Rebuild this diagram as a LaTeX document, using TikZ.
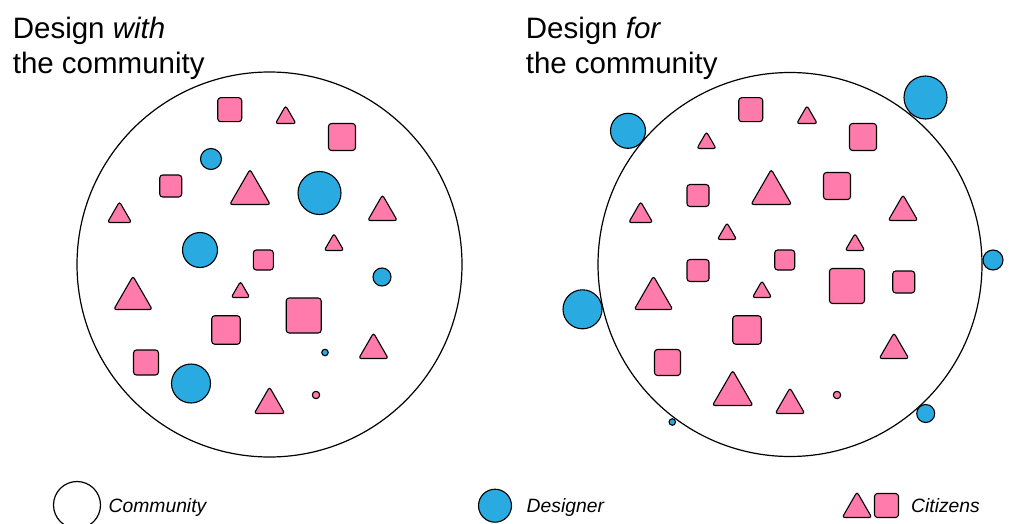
\documentclass[tikz,border=0pt]{standalone}
\usepackage{fontspec}
\setmainfont{Liberation Sans}
\definecolor{citpink}{HTML}{FF7BAC}
\definecolor{desblue}{HTML}{29ABE2}
\tikzset{%
  community/.style={circle, draw=black, line width=1.2pt, inner sep=0pt, outer sep=0pt, minimum size=#1},
  des/.style={circle, draw=black, fill=desblue, line width=1.1pt, inner sep=0pt, outer sep=0pt, minimum size={#1-1}},
  sq/.style={rectangle, draw=black, fill=citpink, line width=1.1pt, rounded corners=3pt, inner sep=0pt, outer sep=0pt, minimum size={#1-1}},
  tri/.pic={
    \draw[draw=black, fill=citpink, line width=1.1pt, rounded corners=2.5pt]
      (0,0) -- ({(#1+1.5)/2},0) -- (0,{-0.866*(#1+1.5)}) -- ({-(#1+1.5)/2},0) -- cycle;
  },
  title/.style={anchor=base west, inner sep=0pt, font=\fontsize{29.5}{35}\selectfont},
  key/.style={anchor=base west, inner sep=0pt, font=\fontsize{19.3}{23}\selectfont\itshape}
}
\begin{document}
\begin{tikzpicture}[x=1pt, y=-1pt]
  \clip (0,0) rectangle (1011,524);

  % design with the community
  \node[title] (withtop) at (12.6,38.3) {Design \textit{with}};
  \node[title] (withbot) at (12.6,74) {the community};
  \node[community=385] (comwith) at (269.5,264.5) {};
  \node[sq=25] (ws1) at (229.7,109.7) {};
  \node[sq=28] (ws2) at (342,137) {};
  \node[sq=23] (ws3) at (170.7,186) {};
  \node[sq=21] (ws4) at (263.3,260) {};
  \node[sq=36] (ws5) at (303.7,315.5) {};
  \node[sq=29.5] (ws6) at (226,330) {};
  \node[sq=26] (ws7) at (146,362.5) {};
  \node[sq=8] (ws8) at (316,395) {};
  \pic (wt1) at (285.7,123.5) {tri=19};
  \pic (wt2) at (250,204.5) {tri=39};
  \pic (wt3) at (119.5,222.5) {tri=22.5};
  \pic (wt4) at (382.5,220.5) {tri=28};
  \pic (wt5) at (334,250.5) {tri=18};
  \pic (wt6) at (133,309.5) {tri=37};
  \pic (wt7) at (240.5,297.5) {tri=17};
  \pic (wt8) at (373.5,358.5) {tri=28};
  \pic (wt9) at (269.5,413.5) {tri=29};
  \node[des=22] (wd1) at (211,159) {};
  \node[des=44] (wd2) at (319.5,193) {};
  \node[des=36] (wd3) at (200,250) {};
  \node[des=19] (wd4) at (382,277) {};
  \node[des=7.5] (wd5) at (325,352.5) {};
  \node[des=40] (wd6) at (191,383.5) {};

  % design for the community
  \node[title] (fortop) at (525.6,38.3) {Design \textit{for}};
  \node[title] (forbot) at (525.6,74) {the community};
  \node[community=384] (comfor) at (790,264.5) {};
  \node[sq=25] (fs1) at (750.7,109.7) {};
  \node[sq=28] (fs2) at (863,137) {};
  \node[sq=23] (fs3) at (698,195.5) {};
  \node[sq=28] (fs4) at (837,186) {};
  \node[sq=21] (fs5) at (784.7,260) {};
  \node[sq=23] (fs6) at (698,270.5) {};
  \node[sq=36] (fs7) at (847,286) {};
  \node[sq=23] (fs8) at (903.7,282) {};
  \node[sq=29.5] (fs9) at (747,330) {};
  \node[sq=27] (fs10) at (667.5,362.5) {};
  \node[sq=8] (fs11) at (837,395) {};
  \pic (ft1) at (807,123.5) {tri=19};
  \pic (ft2) at (706.5,148.5) {tri=17.7};
  \pic (ft3) at (771.3,204.5) {tri=39};
  \pic (ft4) at (640.7,222.5) {tri=22.5};
  \pic (ft5) at (903,220.5) {tri=28};
  \pic (ft6) at (727,239.5) {tri=17.7};
  \pic (ft7) at (855,250.5) {tri=18};
  \pic (ft8) at (762,297.5) {tri=17.7};
  \pic (ft9) at (653.5,309.5) {tri=37};
  \pic (ft10) at (894,358.5) {tri=28};
  \pic (ft11) at (732.7,405.5) {tri=39};
  \pic (ft12) at (790,413.5) {tri=28};
  \node[des=36] (fd1) at (628,130.8) {};
  \node[des=44] (fd2) at (925.5,97.5) {};
  \node[des=21] (fd3) at (993,260) {};
  \node[des=40] (fd4) at (582.5,309.3) {};
  \node[des=7.5] (fd5) at (672.3,422) {};
  \node[des=19] (fd6) at (925.7,413.5) {};

  % legend
  \node[community=47] (comkey) at (77,505) {};
  \node[key] (comtext) at (108.5,512) {Community};
  \node[des=34] (deskey) at (495,505.7) {};
  \node[key] (destext) at (526.5,512.5) {Designer};
  \pic (citkeyt) at (857,517.5) {tri=28};
  \node[sq=25] (citkeys) at (886.5,505.5) {};
  \node[key] (cittext) at (911,512.5) {Citizens};
\end{tikzpicture}
\end{document}
